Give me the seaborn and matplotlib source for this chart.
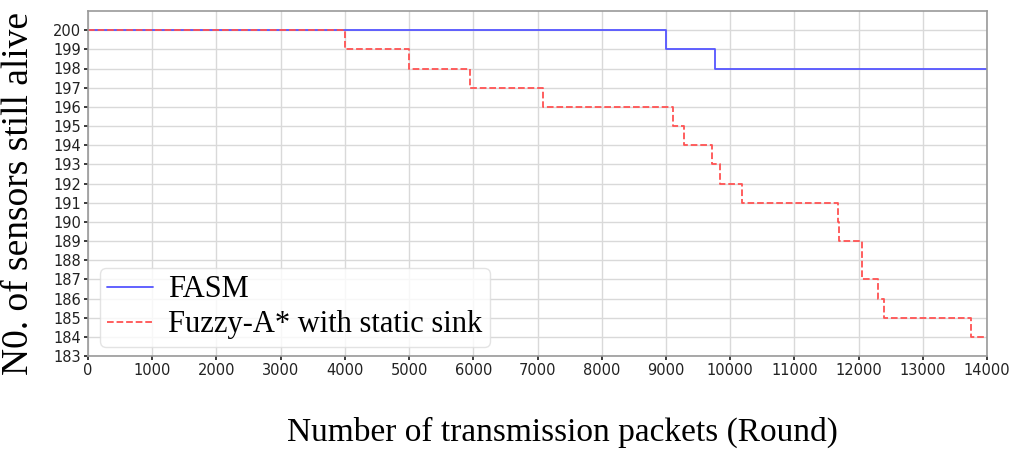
import matplotlib
matplotlib.use("Agg")
import matplotlib.pyplot as plt
import pandas as pd
import seaborn as sns

# step breakpoints: round where the count changes, and the count from there on
fasm_rounds = [0, 9000, 9770, 14000]
fasm_alive = [200, 199, 198, 198]

fuzzy_rounds = [0, 4000, 5000, 5950, 7080, 9110, 9280, 9710, 9840, 10190,
                11680, 11700, 12060, 12300, 12390, 13750, 14000]
fuzzy_alive = [200, 199, 198, 197, 196, 195, 194, 193, 192, 191,
               190, 189, 187, 186, 185, 184, 184]

y_ticks = list(range(183, 201))
x_ticks = list(range(0, 14001, 1000))

sns.set_theme(style="whitegrid")
plt.rcParams["font.family"] = ["DejaVu Sans"]

fasm = pd.DataFrame({"round": fasm_rounds, "alive": fasm_alive})
fuzzy = pd.DataFrame({"round": fuzzy_rounds, "alive": fuzzy_alive})

fig = plt.figure(figsize=(10.15, 4.5), dpi=100)
ax = fig.add_axes([88 / 1015, 1 - 356 / 450, (987 - 88) / 1015, (356 - 11) / 450])

sns.lineplot(data=fasm, x="round", y="alive", ax=ax, estimator=None,
             drawstyle="steps-post", color="#5555ff", lw=1.3, label="FASM")
sns.lineplot(data=fuzzy, x="round", y="alive", ax=ax, estimator=None,
             drawstyle="steps-post", color="#ff5252", lw=1.3, ls="--",
             label="Fuzzy-A* with static sink")

ax.set_xlim(0, 14000)
ax.set_ylim(183, 201)
ax.set_xticks(x_ticks)
ax.set_yticks(y_ticks)
ax.tick_params(labelsize=10.5, length=3, pad=2, colors="#222222")
ax.tick_params(axis="both", which="both", bottom=True, left=True)
ax.grid(True, color="#d9d9d9", lw=1.0)
for s in ax.spines.values():
    s.set_color("#999999")
    s.set_linewidth(1.2)

serif = ["Liberation Serif", "DejaVu Serif"]
ax.set_xlabel("Number of transmission packets (Round)", fontsize=24,
              family=serif, color="black")
ax.xaxis.set_label_coords(0.528, -0.175)
ax.set_ylabel("N0. of sensors still alive", fontsize=27, family=serif,
              color="black")
ax.yaxis.set_label_coords(-0.058, 0.47)

leg = ax.legend(loc="lower left", prop={"family": serif, "size": 22},
                handlelength=1.5, handletextpad=0.5, borderpad=0.25,
                labelspacing=0.2, borderaxespad=0, frameon=True, fancybox=True,
                bbox_to_anchor=(0.013, 0.026), labelcolor="black")
leg.get_frame().set_edgecolor("#dddddd")

fig.savefig("out.png", dpi=100)
